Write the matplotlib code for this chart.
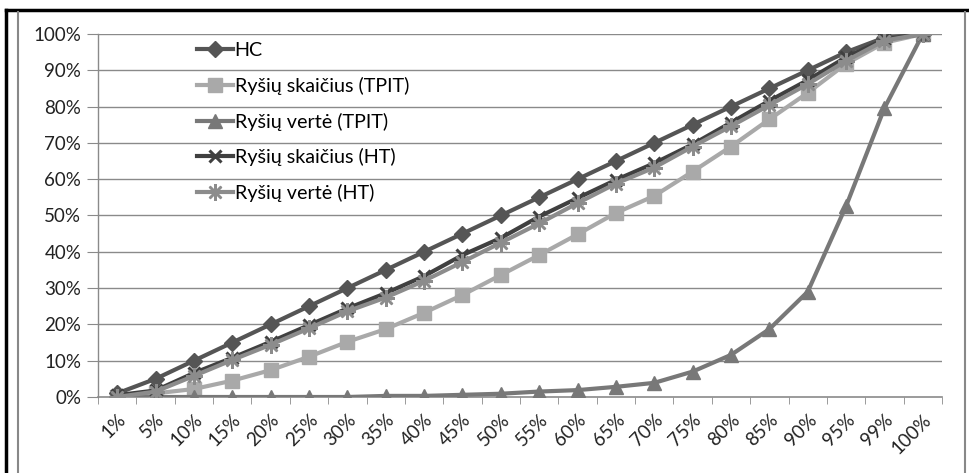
import matplotlib
matplotlib.use("Agg")
import matplotlib.pyplot as plt
from matplotlib.lines import Line2D

categories = ["1%", "5%", "10%", "15%", "20%", "25%", "30%", "35%", "40%", "45%", "50%",
              "55%", "60%", "65%", "70%", "75%", "80%", "85%", "90%", "95%", "99%", "100%"]
hc = [1, 5, 10, 15, 20, 25, 30, 35, 40, 45, 50, 55, 60, 65, 70, 75, 80, 85, 90, 95, 99, 100]
rs_tpit = [0, 1, 2.2, 4.5, 7.4, 11.1, 15.2, 18.7, 23.2, 28.1, 33.6, 39.1, 44.8, 50.7, 55.4,
           62.1, 69.0, 76.5, 83.8, 91.8, 97.6, 100]
rv_tpit = [0, 0, 0, 0, 0, 0, 0, 0.3, 0.3, 0.6, 0.9, 1.5, 1.9, 2.8, 3.9, 7.0, 11.6, 18.7,
           29.0, 52.6, 79.6, 100]
rs_ht = [0.5, 1.8, 6.6, 10.8, 15.2, 19.8, 24.4, 28.6, 33.3, 39.1, 43.8, 49.7, 54.8, 59.8,
         64.4, 69.6, 75.6, 81.6, 87.3, 93.6, 98.5, 100]
rv_ht = [0, 1.5, 5.8, 10.2, 14.4, 18.9, 23.6, 27.4, 32.0, 37.2, 42.5, 47.8, 53.4, 58.8,
         63.2, 69.0, 74.6, 80.4, 86.2, 92.6, 98.2, 100]

labels = ["HC", "Ryšių skaičius (TPIT)", "Ryšių vertė (TPIT)", "Ryšių skaičius (HT)", "Ryšių vertė (HT)"]

plt.rcParams['font.family'] = ['Lato', 'DejaVu Sans']

fig = plt.figure(figsize=(9.69, 4.73), dpi=100)
ax = fig.add_axes([98/969, 1-397/473, (942-98)/969, (397-34)/473])

x = list(range(len(categories)))
grid_c = "#8a8a8a"
for yv in range(10, 101, 10):
    ax.axhline(yv, color=grid_c, lw=1.0, zorder=0)

ax.plot(x, hc, color="#555555", lw=3, marker="D", ms=8, label=labels[0], zorder=5)
ax.plot(x, rs_tpit, color="#a9a9a9", lw=3, marker="s", ms=10, label=labels[1], zorder=3)
ax.plot(x, rv_tpit, color="#787878", lw=3, marker="^", ms=10, label=labels[2], zorder=4)
ax.plot(x, rs_ht, color="#404040", lw=3, marker="x", ms=9, mew=2.2, label=labels[3], zorder=6)
ax.plot(x, rv_ht, color="#8c8c8c", lw=3, marker=(8, 2, 0), ms=12, mew=1.8, label=labels[4], zorder=7)

ax.set_xlim(-0.5, len(categories) - 0.5)
ax.set_ylim(0, 100)
ax.set_yticks(range(0, 101, 10))
ax.set_yticklabels([f"{v}%" for v in range(0, 101, 10)], fontsize=13.5, color="#222222")
ax.set_xticks(x)
ax.set_xticklabels(categories, rotation=45, ha="right", va="top", rotation_mode="anchor",
                   fontsize=13.5, color="#222222")
ax.tick_params(axis="x", which="major", length=0, pad=10)
ax.set_xticks([i - 0.5 for i in range(len(categories) + 1)], minor=True)
ax.tick_params(axis="x", which="minor", length=5, color=grid_c, direction="out")
ax.tick_params(axis="y", length=8, color=grid_c, pad=4)

for s in ["top", "right"]:
    ax.spines[s].set_visible(False)
ax.spines["left"].set_color(grid_c)
ax.spines["bottom"].set_color(grid_c)
ax.spines["left"].set_linewidth(1.0)
ax.spines["bottom"].set_linewidth(1.2)

leg = ax.legend(loc="upper left", bbox_to_anchor=(0.108, 1.0), frameon=False,
                fontsize=14.2, labelspacing=0.9, handlelength=1.8, handletextpad=0.1,
                borderaxespad=0)

# outer frame lines
fig.add_artist(Line2D([6/969, 1], [1-10/473, 1-10/473], color="black", lw=2.5))
fig.add_artist(Line2D([6/969, 6/969], [0, 1-10/473], color="black", lw=2.5))
fig.add_artist(Line2D([18/969, 18/969], [0, 1-12/473], color="#888888", lw=1.5))
fig.add_artist(Line2D([965/969, 965/969], [0, 1-12/473], color="#888888", lw=1.5))

fig.savefig("out.png", dpi=100)
